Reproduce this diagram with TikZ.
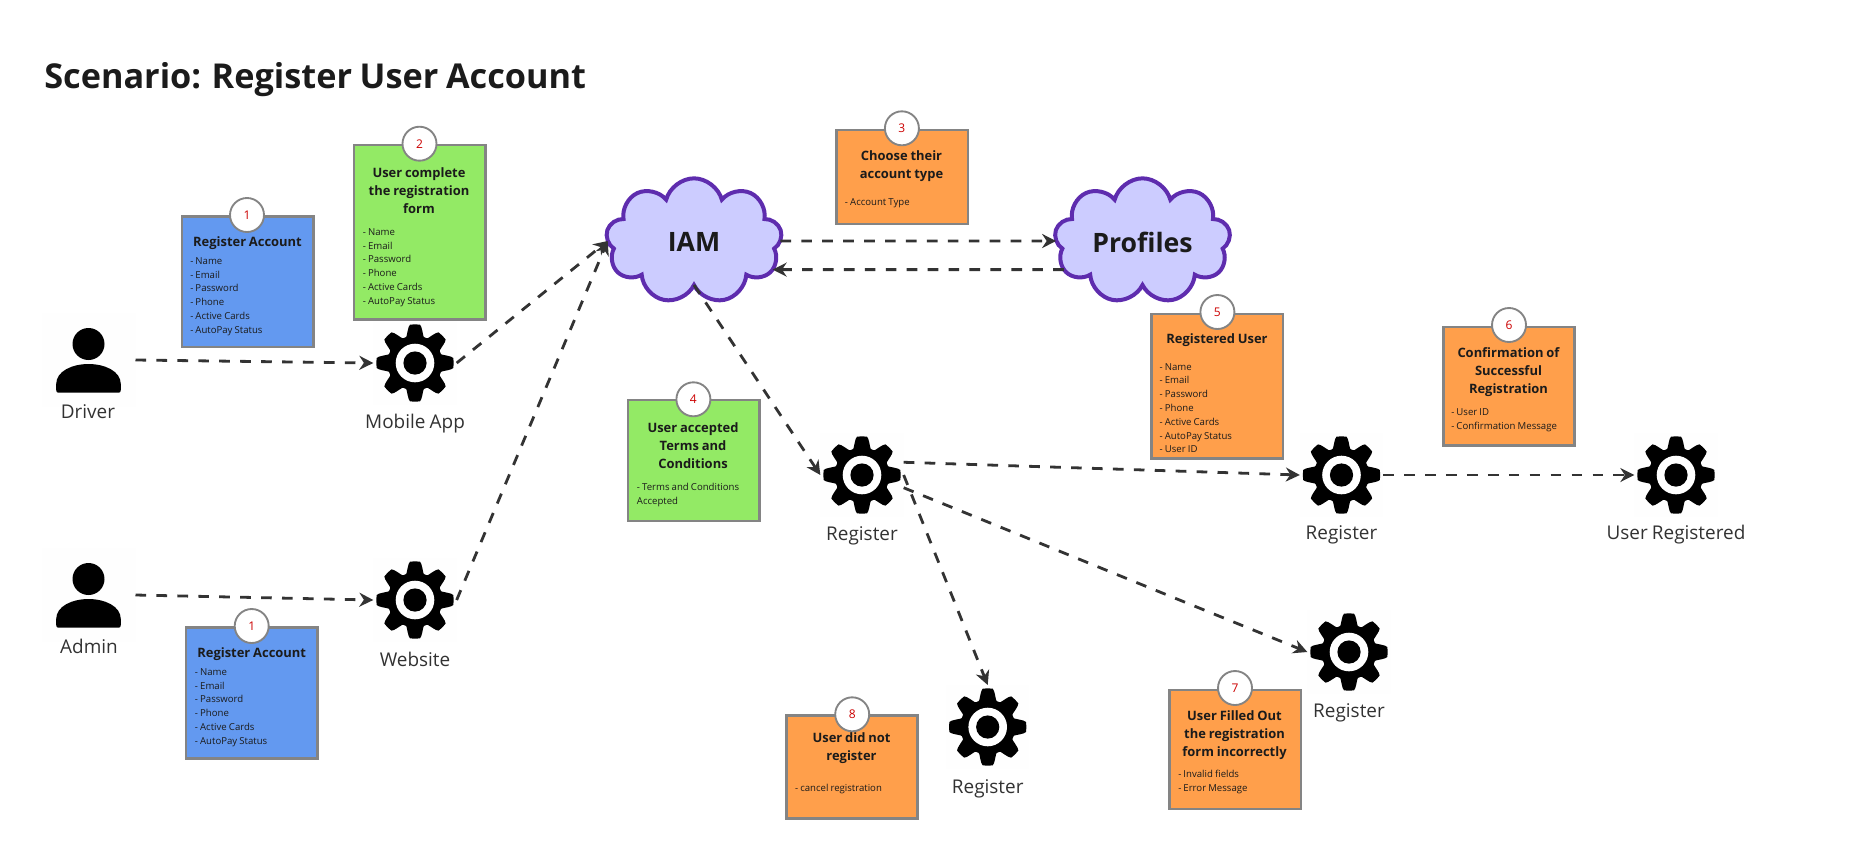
\documentclass[tikz,border=0pt]{standalone}
\usepackage{xcolor}
\usepackage{fontspec}
\setmainfont[WordSpace=0.85]{Open Sans}
\usetikzlibrary{arrows.meta,shapes.symbols}
\definecolor{noteblue}{HTML}{6399F0}
\definecolor{notegreen}{HTML}{93EA65}
\definecolor{noteorange}{HTML}{FF9F4B}
\definecolor{noteedge}{HTML}{848484}
\definecolor{cloudfill}{HTML}{CCCCFF}
\definecolor{cloudedge}{HTML}{5E2CAE}
\definecolor{inktext}{HTML}{1B1B1B}
\definecolor{flowink}{HTML}{333333}
\tikzset{
	notebox/.style={draw=noteedge,line width=1.9pt,minimum width=98.6pt,inner sep=0pt,outer sep=0pt},
	notetitle/.style={font=\fontsize{9.7}{13.5}\selectfont\bfseries,text=inktext,align=center,inner sep=0pt,yshift=-1.4pt},
	notelist/.style={font=\fontsize{7.2}{10.35}\selectfont,text=inktext,align=left,anchor=west,inner sep=0pt,yshift=-1pt},
	stepbadge/.style={circle,draw=noteedge,line width=1.4pt,fill=white,minimum size=25.5pt,inner sep=0pt,text=red!80!black,font=\fontsize{9}{10}\selectfont},
	iconback/.style={fill=black!0.5,minimum width=62.5pt,minimum height=63pt,inner sep=0pt,outer sep=0pt},
	personback/.style={fill=black!0.5,minimum width=70.5pt,minimum height=70.5pt,inner sep=0pt,outer sep=0pt},
	iconlabel/.style={font=\fontsize{14.2}{16}\selectfont,text=inktext!90,inner sep=0pt,yshift=-1pt},
	cloudnode/.style={cloud,cloud puffs=9,cloud puff arc=150,aspect=1.4,draw=cloudedge,fill=cloudfill,line width=3pt,minimum width=132pt,minimum height=94pt,inner sep=0pt,outer sep=0pt},
	cloudtext/.style={font=\fontsize{20}{24}\selectfont\bfseries,text=inktext,inner sep=0pt,yshift=-0.8pt},
	flow/.style={draw=flowink,line width=2.1pt,dash pattern=on 8pt off 7.7pt,-{Stealth[length=10.5pt,width=10.5pt]}},
	gear/.pic={
		\fill[black] plot[domain=0:360,samples=145,smooth] (\x:{33+5.6*max(-1,min(1,1.6*cos(8*\x)+0.35))}) -- cycle;
		\fill[white] (0,0) circle (19.3);
		\fill[black] (0,0) circle (11.6);
	},
	person/.pic={
		\fill[black] (0,-16) circle (16);
		\fill[black] (-32.3,30) -- (-32.3,24) .. controls (-32.3,11) and (-16,4) .. (0,4) .. controls (16,4) and (32.3,11) .. (32.3,24) -- (32.3,30) .. controls (32.3,32) and (31.5,32.7) .. (30,32.7) -- (-30,32.7) .. controls (-31.5,32.7) and (-32.3,32) .. (-32.3,30) -- cycle;
	}
}
\begin{document}
\begin{tikzpicture}[x=0.75pt,y=-0.75pt]
	\useasboundingbox (0,0) rectangle (1849,844);
	\node[anchor=west,inner sep=0pt,font=\fontsize{25.7}{30}\selectfont\bfseries,text=inktext] (heading) at (44,80) {Scenario: Register User Account};

	\node[personback] (driver) at (88.5,360) {};
	\pic at (driver) {person};
	\node[iconlabel] (driverLabel) at (88,410.5) {Driver};
	\node[personback] (admin) at (88.5,595) {};
	\pic at (admin) {person};
	\node[iconlabel] (adminLabel) at (89,645.5) {Admin};

	\node[iconback] (mobile) at (415,363) {};
	\pic at (mobile) {gear};
	\node[iconlabel] (mobileLabel) at (415,422.7) {Mobile App};
	\node[iconback] (website) at (415,600) {};
	\pic at (website) {gear};
	\node[iconlabel] (websiteLabel) at (415,658) {Website};
	\node[iconback] (regMain) at (862,475) {};
	\pic at (regMain) {gear};
	\node[iconlabel] (regMainLabel) at (862,534) {Register};
	\node[iconback] (regDone) at (1341.5,475) {};
	\pic at (regDone) {gear};
	\node[iconlabel] (regDoneLabel) at (1341.5,533.3) {Register};
	\node[iconback] (userReg) at (1676,475) {};
	\pic at (userReg) {gear};
	\node[iconlabel] (userRegLabel) at (1676,533) {User Registered};
	\node[iconback] (regWrong) at (1349,652) {};
	\pic at (regWrong) {gear};
	\node[iconlabel] (regWrongLabel) at (1349,711) {Register};
	\node[iconback] (regCancel) at (987.7,727) {};
	\pic at (regCancel) {gear};
	\node[iconlabel] (regCancelLabel) at (987.7,787.5) {Register};

	\node[cloudnode] (iam) at (694,241) {};
	\node[cloudtext] (iamText) at (iam) {IAM};
	\node[cloudnode] (profiles) at (1142.5,241) {};
	\node[cloudtext] (profilesText) at (profiles) {Profiles};

	\node[notebox,fill=noteblue,minimum height=97.7pt] (noteDriver) at (247.75,281.85) {};
	\node[stepbadge] (badgeDriver) at (247,215) {1};
	\node[notetitle] (titleDriver) at (247.5,241.7) {Register Account};
	\node[notelist] (listDriver) at (190,295.2) {- Name\\- Email\\- Password\\- Phone\\- Active Cards\\- AutoPay Status};

	\node[notebox,fill=notegreen,minimum height=130.7pt] (noteForm) at (419.75,232.15) {};
	\node[stepbadge] (badgeForm) at (419.5,143.7) {2};
	\node[notetitle] (titleForm) at (419,188.3) {User complete\\the registration\\form};
	\node[notelist] (listForm) at (362.6,266.2) {- Name\\- Email\\- Password\\- Phone\\- Active Cards\\- AutoPay Status};

	\node[notebox,fill=noteblue,minimum height=98.25pt] (noteAdmin) at (251.85,693.2) {};
	\node[stepbadge] (badgeAdmin) at (251.7,626) {1};
	\node[notetitle] (titleAdmin) at (251.7,652.7) {Register Account};
	\node[notelist] (listAdmin) at (194.7,706.2) {- Name\\- Email\\- Password\\- Phone\\- Active Cards\\- AutoPay Status};

	\node[notebox,fill=noteorange,minimum height=70.5pt] (noteType) at (902.1,177) {};
	\node[stepbadge] (badgeType) at (901.9,128.3) {3};
	\node[notetitle] (titleType) at (901.5,164.5) {Choose their\\account type};
	\node[notelist] (listType) at (844.7,201.7) {- Account Type};

	\node[notebox,fill=notegreen,minimum height=90.75pt] (noteTerms) at (693.65,460.5) {};
	\node[stepbadge] (badgeTerms) at (693.4,399.3) {4};
	\node[notetitle] (titleTerms) at (693,443.3) {User accepted\\Terms and\\Conditions};
	\node[notelist] (listTerms) at (636.7,493.7) {- Terms and Conditions\\Accepted};

	\node[notebox,fill=noteorange,minimum height=108.2pt] (noteUser) at (1217.4,386.15) {};
	\node[stepbadge] (badgeUser) at (1217.4,312) {5};
	\node[notetitle] (titleUser) at (1217,338.7) {Registered User};
	\node[notelist] (listUser) at (1159.4,406.7) {- Name\\- Email\\- Password\\- Phone\\- Active Cards\\- AutoPay Status\\- User ID};

	\node[notebox,fill=noteorange,minimum height=88.7pt] (noteConfirm) at (1509,386.15) {};
	\node[stepbadge] (badgeConfirm) at (1509,325) {6};
	\node[notetitle] (titleConfirm) at (1508.5,370.3) {Confirmation of\\Successful\\Registration};
	\node[notelist] (listConfirm) at (1451,418.7) {- User ID\\- Confirmation Message};

	\node[notebox,fill=noteorange,minimum height=89.25pt] (noteWrong) at (1235.15,749.5) {};
	\node[stepbadge] (badgeWrong) at (1235,688) {7};
	\node[notetitle] (titleWrong) at (1234.5,733.3) {User Filled Out\\the registration\\form incorrectly};
	\node[notelist] (listWrong) at (1178,780.7) {- Invalid fields\\- Error Message};

	\node[notebox,fill=noteorange,minimum height=77.25pt] (noteCancel) at (852,766.8) {};
	\node[stepbadge] (badgeCancel) at (852.2,714.3) {8};
	\node[notetitle] (titleCancel) at (851.5,746.7) {User did not\\register};
	\node[notelist] (listCancel) at (794.8,787.7) {- cancel registration};

	\draw[flow] (driver.east) -- (mobile.west);
	\draw[flow] (admin.east) -- (website.west);
	\draw[flow] (mobile.east) -- (iam.west);
	\draw[flow] (website.east) -- (iam.west);
	\draw[flow] (iam.east) -- (profiles.west);
	\draw[flow] (profiles.200) -- (iam.-20);
	\draw[flow] (iam.south) -- (regMain.west);
	\draw[flow] (regMain.17) -- (regDone.west);
	\draw[flow] (regDone.east) -- (userReg.west);
	\draw[flow] (regMain.-17) -- (regWrong.west);
	\draw[flow] (regMain.east) -- (regCancel.north);
\end{tikzpicture}
\end{document}
